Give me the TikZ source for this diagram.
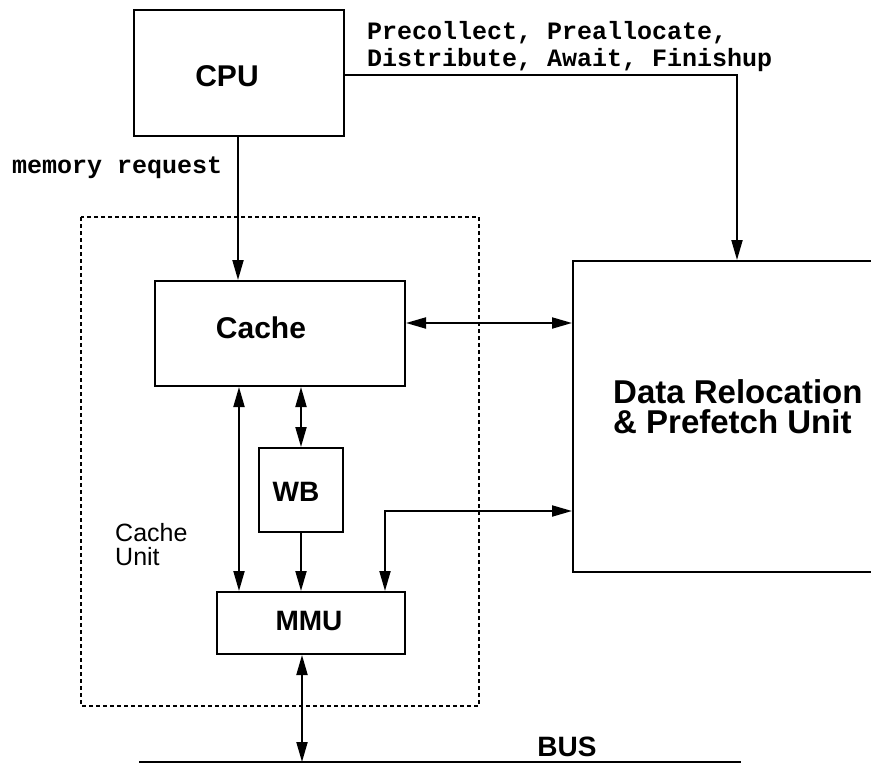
\documentclass[tikz,border=0pt]{standalone}
\usepackage{fontspec}
\setmainfont{Liberation Sans}
\newfontfamily\monobold{Liberation Mono}[BoldFont={* Bold}]
\usetikzlibrary{arrows.meta}

\tikzset{
  unitbox/.style={draw, line width=2pt, minimum width=#1, inner sep=0pt},
  boxtitle/.style={font=\bfseries\fontsize{30}{32}\selectfont, inner sep=0pt},
  codelabel/.style={font=\monobold\bfseries\fontsize{25}{27}\selectfont, inner sep=0pt, anchor=west, align=left},
  plainlabel/.style={font=\fontsize{25}{24}\selectfont, inner sep=0pt, anchor=base west},
  link/.style={line width=2pt, -{Triangle[length=20pt,width=11pt]}},
  bilink/.style={line width=2pt, {Triangle[length=20pt,width=11pt]}-{Triangle[length=20pt,width=11pt]}},
}

\begin{document}
\begin{tikzpicture}[x=1pt, y=-1pt]
  \useasboundingbox (0,0) rectangle (871,763);

  % cache unit outline
  \draw[line width=2pt, dash pattern=on 4pt off 3pt] (81,217) rectangle (479,706);

  % boxes
  \node[unitbox=210pt, minimum height=126pt] (cpu) at (239,73) {};
  \node[unitbox=250pt, minimum height=105pt] (cache) at (280,333.5) {};
  \node[unitbox=84pt, minimum height=84pt] (wb) at (301,490) {};
  \node[unitbox=188pt, minimum height=62pt] (mmu) at (311,623) {};
  \node[unitbox=320pt, minimum height=311pt] (drpu) at (733,416.5) {};

  % box titles
  \node[boxtitle] (cpulbl) at (227,76) {CPU};
  \node[boxtitle] (cachelbl) at (261,328) {Cache};
  \node[boxtitle, font=\bfseries\fontsize{28}{30}\selectfont] (wblbl) at (296,492) {WB};
  \node[boxtitle, font=\bfseries\fontsize{28}{30}\selectfont] (mmulbl) at (309,621) {MMU};
  \node[boxtitle, font=\bfseries\fontsize{33}{30}\selectfont, anchor=base west] (drpulblA) at (613,403) {Data Relocation};
  \node[boxtitle, font=\bfseries\fontsize{33}{30}\selectfont, anchor=base west] (drpulblB) at (613,433) {\& Prefetch Unit};

  % other labels
  \node[plainlabel] (culblA) at (115,541) {Cache};
  \node[plainlabel] (culblB) at (115,565) {Unit};
  \node[codelabel] (memreq) at (12,168) {memory request};
  \node[codelabel] (cmds) at (367,46.5) {Precollect, Preallocate,\\Distribute, Await, Finishup};
  \node[font=\bfseries\fontsize{28}{30}\selectfont, inner sep=0pt] (buslbl) at (567,747) {BUS};

  % bus line
  \coordinate (busL) at (139,762);
  \coordinate (busR) at (741,762);
  \draw[line width=2pt] (busL) -- (busR);

  % connectors
  \coordinate (cpuR) at (cpu.east |- 0,75);
  \coordinate (cmdturn) at (737,75);
  \draw[link] (cpuR) -- (cmdturn) -- (cmdturn |- drpu.north);

  \draw[link] (238,0 |- cpu.south) -- (238,0 |- cache.north);

  \draw[bilink] (cache.east |- 0,323) -- (drpu.west |- 0,323);

  \draw[bilink] (239,0 |- cache.south) -- (239,0 |- mmu.north);
  \draw[bilink] (wb.north |- cache.south) -- (wb.north);
  \draw[link] (wb.south) -- (wb.south |- mmu.north);

  \coordinate (elbow) at (385,511);
  \draw[bilink] (elbow |- mmu.north) -- (elbow) -- (drpu.west |- elbow);

  \draw[bilink] (302,0 |- mmu.south) -- (302,0 |- busL);
\end{tikzpicture}
\end{document}
